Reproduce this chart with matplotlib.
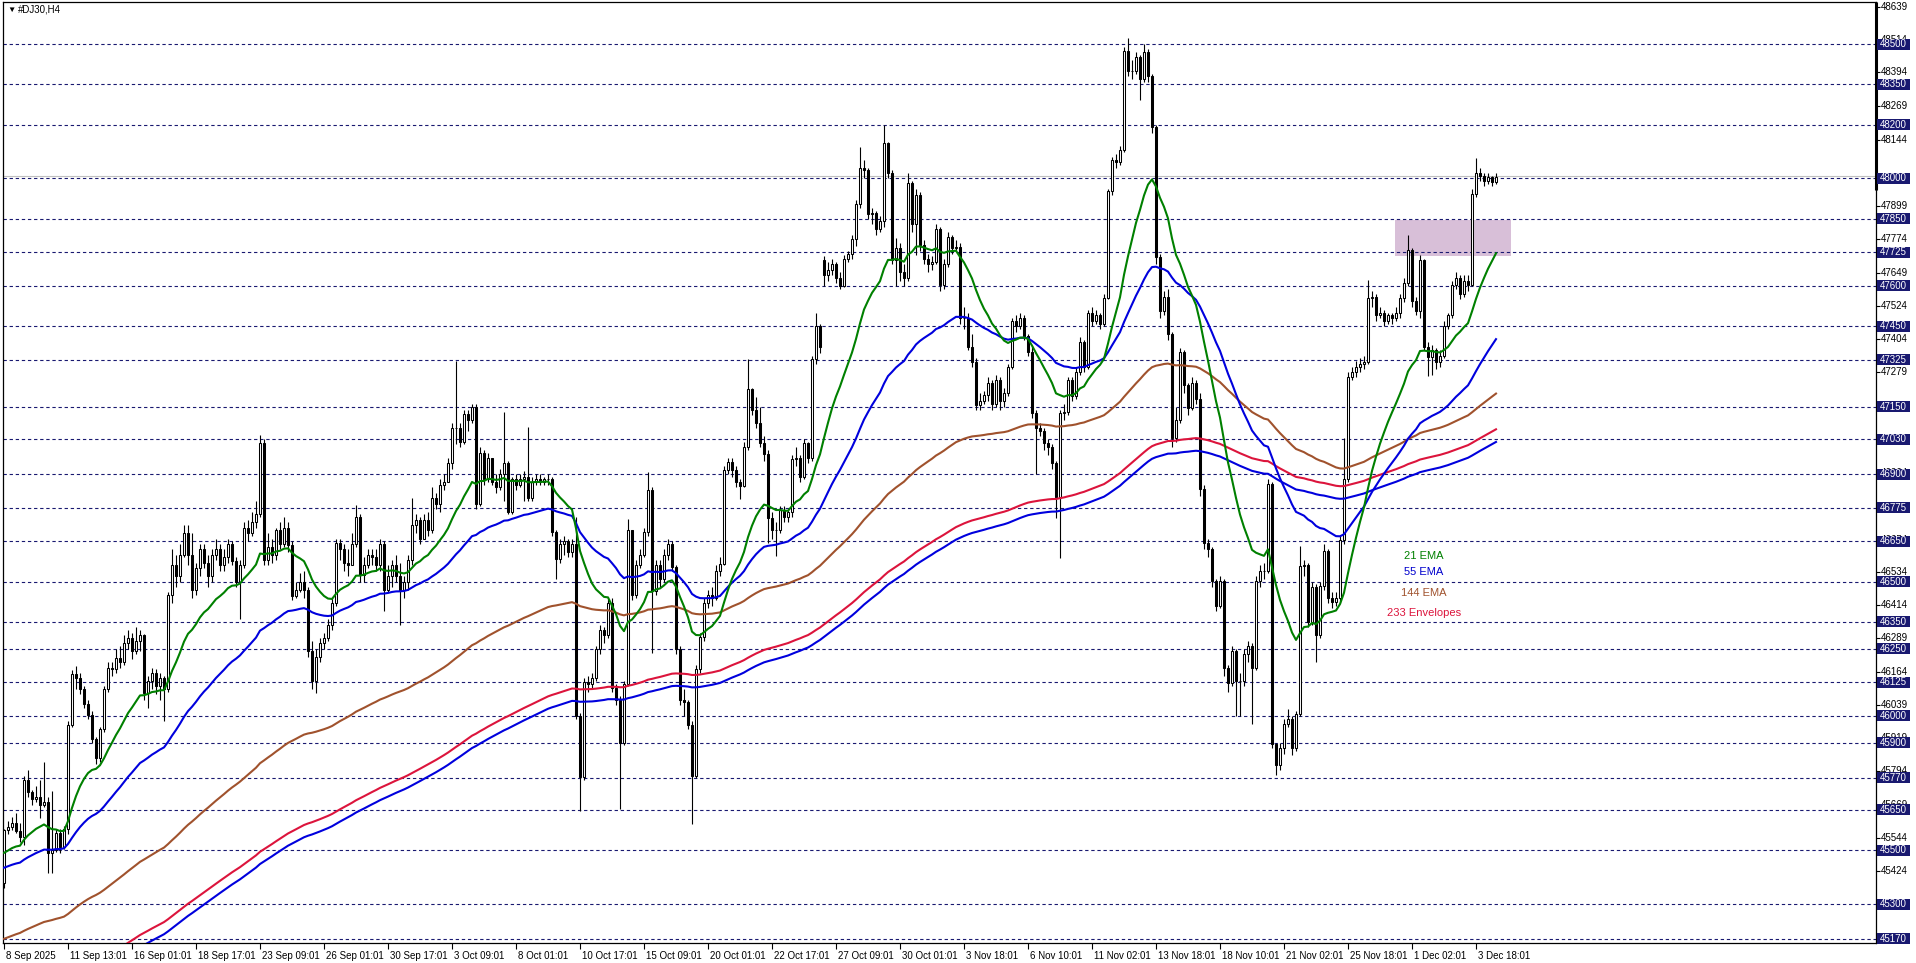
#DJ30 H4 chart with EMAs and 233 envelopes, MT4 style

import numpy as np
import pandas as pd
import matplotlib.pyplot as plt
import matplotlib.transforms as mtransforms
from matplotlib.patches import Rectangle

plt.rcParams['font.family'] = ['Liberation Sans', 'DejaVu Sans']

#candle data (H4 bars)
closes = [
    45575, 45585, 45600, 45573, 45548, 45760, 45718, 45690, 45700, 45668,
    45680, 45490, 45500, 45565, 45513, 45580, 45966, 46155, 46140, 46100,
    46045, 46003, 45915, 45845, 45950, 46100, 46180, 46175, 46215, 46200,
    46270, 46290, 46240, 46280, 46300, 46085, 46130, 46160, 46110, 46140,
    46100, 46450, 46560, 46520, 46600, 46680, 46600, 46470, 46550, 46620,
    46570, 46520, 46600, 46620, 46560, 46590, 46640, 46575, 46500, 46560,
    46700, 46680, 46720, 46750, 47016, 46580, 46630, 46600, 46690, 46640,
    46700, 46635, 46445, 46470, 46500, 46470, 46240, 46130, 46220, 46270,
    46290, 46340, 46420, 46645, 46620, 46570, 46560, 46640, 46740, 46525,
    46560, 46600, 46590, 46560, 46640, 46470, 46520, 46560, 46520, 46470,
    46500, 46580, 46710, 46730, 46660, 46730, 46690, 46810, 46790, 46860,
    46870, 46940, 47070, 47070, 47020, 47125, 47100, 47150, 46790, 46980,
    46880, 46960, 46870, 46850, 46900, 46940, 46760, 46880, 46860, 46880,
    46890, 46810, 46870, 46880, 46870, 46880, 46880, 46683, 46582, 46640,
    46650, 46610, 46640, 46000, 45771, 46125, 46120, 46140, 46248, 46320,
    46300, 46422, 46104, 46060, 45901, 46118, 46690, 46451, 46560, 46600,
    46683, 46842, 46466, 46560, 46510, 46600, 46640, 46553, 46248, 46060,
    46050, 45966, 45778, 46176, 46292, 46422, 46451, 46437, 46538, 46567,
    46915, 46944, 46915, 46871, 46856, 47000, 47215, 47137, 47090, 47014,
    46976, 46738, 46691, 46691, 46767, 46740, 46757, 46957, 46960, 46890,
    47014, 46960, 47327, 47450, 47374, 47640, 47660, 47680, 47630, 47600,
    47700, 47720, 47773, 47906, 48039, 48030, 47868, 47870, 47810, 47840,
    48130, 48020, 47697, 47740, 47650, 47630, 47982, 47830, 47940, 47754,
    47700, 47680, 47690, 47811, 47602, 47680, 47782, 47740, 47745, 47479,
    47480, 47374, 47318, 47156, 47170, 47194, 47240, 47160, 47250, 47170,
    47200, 47298, 47469, 47450, 47480, 47412, 47355, 47128, 47071, 47060,
    47014, 47000, 46940, 46814, 47128, 47130, 47251, 47190, 47280, 47393,
    47300, 47498, 47470, 47490, 47460, 47555, 47953, 48067, 48060, 48105,
    48475, 48399, 48400, 48450, 48370, 48470, 48380, 48190, 47707, 47507,
    47560, 47422, 47033, 47100, 47355, 47230, 47147, 47240, 47180, 46843,
    46644, 46620, 46501, 46410, 46501, 46178, 46121, 46240, 46130, 46130,
    46230, 46260, 46178, 46501, 46540, 46540, 46862, 45894, 45818, 45880,
    45970, 45990, 45880, 46007, 46558, 46560, 46349, 46480, 46300, 46482,
    46615, 46440, 46425, 46440, 46653, 46881, 47260, 47280, 47300, 47310,
    47318, 47555, 47560, 47490, 47500, 47470, 47490, 47480, 47500, 47555,
    47612, 47735, 47545, 47507, 47697, 47374, 47336, 47360, 47318, 47340,
    47450, 47490, 47602, 47630, 47570, 47620, 47605, 47943, 48020, 48010,
    47990, 48005, 47985, 48005,
]
highs = [
    45580, 45610, 45625, 45640, 45600, 45775, 45800, 45725, 45740, 45760,
    45830, 45700, 45720, 45580, 45580, 45590, 45980, 46170, 46185, 46160,
    46110, 46060, 46020, 45920, 45960, 46110, 46200, 46200, 46250, 46260,
    46300, 46320, 46310, 46330, 46320, 46305, 46150, 46180, 46175, 46160,
    46150, 46460, 46620, 46600, 46640, 46710, 46712, 46680, 46570, 46640,
    46640, 46600, 46620, 46660, 46640, 46620, 46660, 46650, 46590, 46580,
    46720, 46730, 46760, 46800, 47045, 47030, 46680, 46660, 46700, 46720,
    46740, 46720, 46650, 46500, 46530, 46540, 46480, 46280, 46250, 46290,
    46310, 46360, 46440, 46660, 46660, 46640, 46620, 46680, 46785, 46750,
    46590, 46620, 46620, 46620, 46660, 46650, 46560, 46580, 46600, 46570,
    46520, 46600, 46810, 46750, 46740, 46750, 46760, 46850, 46830, 46880,
    46900, 46960, 47090, 47320, 47090, 47140, 47140, 47160, 47160, 47000,
    46990, 46980, 46960, 46900, 46920, 47130, 46950, 46890, 46900, 46900,
    46910, 47075, 46890, 46900, 46900, 46890, 46900, 46890, 46690, 46660,
    46670, 46660, 46660, 46740, 46010, 46140, 46150, 46160, 46260, 46340,
    46330, 46440, 46440, 46120, 46075, 46130, 46733, 46690, 46580, 46620,
    46700, 46907, 46850, 46580, 46580, 46620, 46660, 46650, 46560, 46260,
    46100, 46060, 45980, 46190, 46310, 46440, 46470, 46480, 46560, 46590,
    46930, 46960, 46960, 46930, 46880, 47020, 47327, 47220, 47185, 47150,
    47040, 46990, 46760, 46720, 46780, 46780, 46770, 46970, 47000, 46970,
    47030, 47020, 47340, 47498, 47460, 47710, 47690, 47700, 47690, 47650,
    47715, 47730, 47790, 47920, 48115, 48070, 48040, 47890, 47880, 47860,
    48200, 48135, 48030, 47780, 47760, 47680, 48020, 47990, 47960, 47950,
    47770, 47720, 47710, 47830, 47820, 47700, 47800, 47790, 47770, 47760,
    47520, 47500, 47420, 47330, 47200, 47210, 47260, 47250, 47270, 47260,
    47220, 47310, 47480, 47490, 47500, 47490, 47420, 47380, 47140, 47090,
    47070, 47030, 47010, 46950, 47140, 47160, 47260, 47260, 47300, 47410,
    47400, 47510, 47520, 47510, 47500, 47570, 47960, 48080, 48090, 48120,
    48490, 48523, 48440, 48470, 48460, 48500, 48480, 48390, 48200, 47720,
    47580, 47590, 47430, 47150, 47370, 47360, 47240, 47260, 47250, 47200,
    46860, 46660, 46630, 46510, 46520, 46510, 46190, 46260, 46250, 46160,
    46250, 46280, 46270, 46520, 46560, 46570, 46880, 46870, 45900, 45900,
    45990, 46026, 46000, 46020, 46634, 46580, 46570, 46500, 46490, 46500,
    46640, 46620, 46460, 46460, 46670, 47033, 47280, 47300, 47320, 47330,
    47340, 47621, 47580, 47570, 47520, 47510, 47500, 47500, 47520, 47570,
    47630, 47790, 47740, 47560, 47715, 47700, 47390, 47380, 47370, 47360,
    47470, 47500, 47620, 47650, 47640, 47640, 47640, 47960, 48077, 48040,
    48020, 48020, 48010, 48020,
]
lows = [
    45358, 45560, 45575, 45565, 45530, 45520, 45700, 45670, 45680, 45620,
    45660, 45415, 45415, 45495, 45490, 45505, 45560, 45960, 46100, 46080,
    46030, 45990, 45900, 45822, 45830, 45940, 46090, 46150, 46160, 46180,
    46190, 46250, 46210, 46230, 46240, 46060, 46030, 46100, 46080, 46060,
    45980, 46090, 46420, 46480, 46500, 46590, 46560, 46440, 46450, 46520,
    46550, 46480, 46500, 46580, 46540, 46540, 46570, 46560, 46480, 46360,
    46550, 46650, 46670, 46700, 46740, 46560, 46560, 46570, 46580, 46620,
    46630, 46610, 46430, 46440, 46460, 46440, 46220, 46100, 46085, 46200,
    46250, 46280, 46320, 46410, 46580, 46540, 46520, 46560, 46630, 46500,
    46500, 46550, 46560, 46540, 46540, 46390, 46460, 46480, 46500, 46340,
    46440, 46470, 46560, 46680, 46640, 46660, 46670, 46680, 46770, 46760,
    46840, 46880, 46920, 47010, 47000, 47010, 47060, 47090, 46770, 46780,
    46860, 46870, 46860, 46830, 46840, 46800, 46750, 46750, 46840, 46850,
    46800, 46800, 46800, 46860, 46860, 46860, 46860, 46670, 46510, 46570,
    46600, 46590, 46590, 45990, 45648, 45760, 46090, 46100, 46130, 46230,
    46270, 46290, 46090, 46040, 45655, 45890, 46110, 46430, 46440, 46550,
    46590, 46670, 46234, 46450, 46480, 46500, 46580, 46540, 46230, 46040,
    46000, 45950, 45597, 45770, 46160, 46280, 46400, 46410, 46430, 46520,
    46560, 46900, 46890, 46850, 46806, 46850, 46990, 47120, 47070, 47000,
    46950, 46644, 46660, 46596, 46680, 46720, 46720, 46740, 46930, 46870,
    46880, 46940, 46950, 47310, 47350, 47600, 47620, 47640, 47610, 47590,
    47595, 47690, 47700, 47750, 47890, 48000, 47850, 47830, 47790, 47800,
    47820, 48000, 47680, 47600, 47620, 47600, 47620, 47800, 47716, 47730,
    47680, 47650, 47660, 47680, 47580, 47590, 47670, 47720, 47730, 47460,
    47440, 47360, 47300, 47140, 47140, 47160, 47170, 47140, 47150, 47140,
    47150, 47190, 47290, 47430, 47440, 47400, 47340, 47110, 46900, 47040,
    46990, 46970, 46920, 46738, 46587, 47100, 47120, 47170, 47180, 47270,
    47280, 47290, 47450, 47460, 47440, 47450, 47550, 47940, 48040, 48050,
    48100, 48380, 48370, 48390, 48290, 48360, 48360, 48170, 47680, 47480,
    47490, 47400, 47000, 47020, 47090, 47200, 47120, 47140, 47160, 46820,
    46620, 46590, 46480, 46390, 46400, 46150, 46090, 46110, 46000, 46000,
    46110, 46200, 45970, 46170, 46480, 46510, 46530, 45880, 45780, 45800,
    45860, 45960, 45856, 45870, 46000, 46520, 46330, 46340, 46200, 46290,
    46470, 46420, 46400, 46410, 46420, 46640, 46870, 47250, 47260, 47280,
    47290, 47310, 47520, 47470, 47480, 47450, 47460, 47460, 47470, 47480,
    47540, 47600, 47520, 47490, 47480, 47360, 47264, 47270, 47290, 47300,
    47330, 47440, 47480, 47590, 47550, 47560, 47580, 47600, 47930, 47990,
    47970, 47980, 47970, 47980,
]
first_open = 45377
gap_opens = {205: 47697}

#indicator values at the left edge of the chart
ema21_start = 45482
ema55_start = 45430
ema144_start = 45165
env233_start = 44900
env_deviation = 0.05   # percent

level_lines = [48500, 48350, 48200, 48000, 47850, 47725, 47600, 47450, 47325,
               47150, 47030, 46900, 46775, 46650, 46500, 46350, 46250, 46125,
               46000, 45900, 45770, 45650, 45500, 45300, 45170]
price_ticks = [48639, 48514, 48394, 48269, 48144, 47899, 47774, 47649,
               47524, 47404, 47279, 47154, 47029, 46904, 46779, 46654, 46534,
               46414, 46289, 46164, 46039, 45919, 45794, 45669, 45544, 45424,
               45299, 45174]
time_labels = ["8 Sep 2025", "11 Sep 13:01", "16 Sep 01:01", "18 Sep 17:01",
               "23 Sep 09:01", "26 Sep 01:01", "30 Sep 17:01", "3 Oct 09:01",
               "8 Oct 01:01", "10 Oct 17:01", "15 Oct 09:01", "20 Oct 01:01",
               "22 Oct 17:01", "27 Oct 09:01", "30 Oct 01:01", "3 Nov 18:01",
               "6 Nov 10:01", "11 Nov 02:01", "13 Nov 18:01", "18 Nov 10:01",
               "21 Nov 02:01", "25 Nov 18:01", "1 Dec 02:01", "3 Dec 18:01"]
bars_per_label = 16
bid_price = 48008
zone_low, zone_high = 47711, 47845
zone_start, zone_end = 347.75, 376.75

navy = '#191970'

#figure in pixels
W, H = 1916, 963
fig = plt.figure(figsize=(W / 100, H / 100), dpi=100)
ax = fig.add_axes([3 / W, 20 / H, 1873 / W, 941 / H])
ax.set_xlim(-0.25, 468)
ax.set_ylim(45155.1, 48656.3)

#candles
c = np.array(closes, float)
o = np.r_[first_open, c[:-1]]
for i, v in gap_opens.items():
    o[i] = v
h = np.maximum(np.array(highs, float), np.maximum(o, c))
l = np.minimum(np.array(lows, float), np.minimum(o, c))
x = np.arange(len(c))
up = c >= o

ax.vlines(x, l, h, color='black', lw=0.8, zorder=3)
ax.bar(x[up], (c - o)[up], bottom=o[up], width=0.6, color='white',
       edgecolor='black', linewidth=0.75, zorder=3.1)
ax.bar(x[~up], (o - c)[~up], bottom=c[~up], width=0.6, color='black',
       edgecolor='black', linewidth=0.75, zorder=3.1)

#indicators
def ema(start, span):
    s = pd.Series(np.r_[start, c]).ewm(span=span, adjust=False).mean()
    return s.to_numpy()[1:]

ema21 = ema(ema21_start, 21)
ema55 = ema(ema55_start, 55)
ema144 = ema(ema144_start, 144)
env_mid = ema(env233_start, 233)
env_up = env_mid * (1 + env_deviation / 100)
env_lo = env_mid * (1 - env_deviation / 100)

ax.plot(x, env_lo, color='#0000dd', lw=1.5, zorder=4)
ax.plot(x, env_up, color='#dc143c', lw=1.5, zorder=4)
ax.plot(x, ema144, color='#a0522d', lw=1.5, zorder=4)
ax.plot(x, ema55, color='#0000dd', lw=1.5, zorder=4)
ax.plot(x, ema21, color='#008000', lw=1.5, zorder=4)

#levels, bid line, zone
for lv in level_lines:
    ax.axhline(lv, color=navy, lw=0.8, ls=(0, (3, 2.5)), zorder=1)
ax.axhline(bid_price, color='#c0c0c0', lw=0.8, zorder=1.2)
ax.add_patch(Rectangle((zone_start, zone_low), zone_end - zone_start,
                       zone_high - zone_low, color='#d8bfd8', lw=0, zorder=0.5))

#axes
for sp in ax.spines.values():
    sp.set_linewidth(0.9)
ax.yaxis.tick_right()
ax.set_yticks(price_ticks)
ax.set_yticklabels([])
ax.tick_params(axis='y', direction='out', length=3, width=0.8)
ax.set_xticks(np.arange(len(time_labels)) * bars_per_label)
ax.set_xticklabels(time_labels, ha='left')
ax.tick_params(axis='x', direction='out', length=4, width=0.8, pad=1.5, labelsize=7)
shift = mtransforms.ScaledTranslation(2 / 100, 0, fig.dpi_scale_trans)
for lbl in ax.get_xticklabels():
    lbl.set_transform(lbl.get_transform() + shift)

#price scale: plain labels under the highlighted level labels
trans = mtransforms.blended_transform_factory(ax.transAxes, ax.transData)
for p in price_ticks:
    ax.text(1.0027, p, str(p), transform=trans, color='black', fontsize=7,
            va='center', ha='left', clip_on=False, zorder=8)
box_h = 11 / 0.26877
for lv in level_lines:
    ax.add_patch(Rectangle((1.0006, lv - box_h / 2), 0.0176, box_h, transform=trans,
                           color=navy, lw=0, clip_on=False, zorder=10))
    ax.text(1.0018, lv, str(lv), transform=trans, color='white', fontsize=7,
            va='center', ha='left', clip_on=False, zorder=11)
ax.plot([1.0, 1.0], [47957, 48656.3], transform=trans, color='black', lw=2.2,
        clip_on=False, solid_capstyle='butt', zorder=9)

#title and indicator names
fig.text(7 / W, 1 - 10 / H, '\u25bc', fontsize=6, va='center')
fig.text(18 / W, 1 - 10 / H, '#DJ30,H4', fontsize=7, va='center')
legend = [('21 EMA', '#008000', 556), ('55 EMA', '#0000cd', 572),
          ('144 EMA', '#a0522d', 593), ('233 Envelopes', '#dc143c', 613)]
for txt, col, py in legend:
    fig.text(1424 / W, 1 - py / H, txt, color=col, fontsize=8, ha='center', va='center')

plt.savefig('out.png', dpi=100)
